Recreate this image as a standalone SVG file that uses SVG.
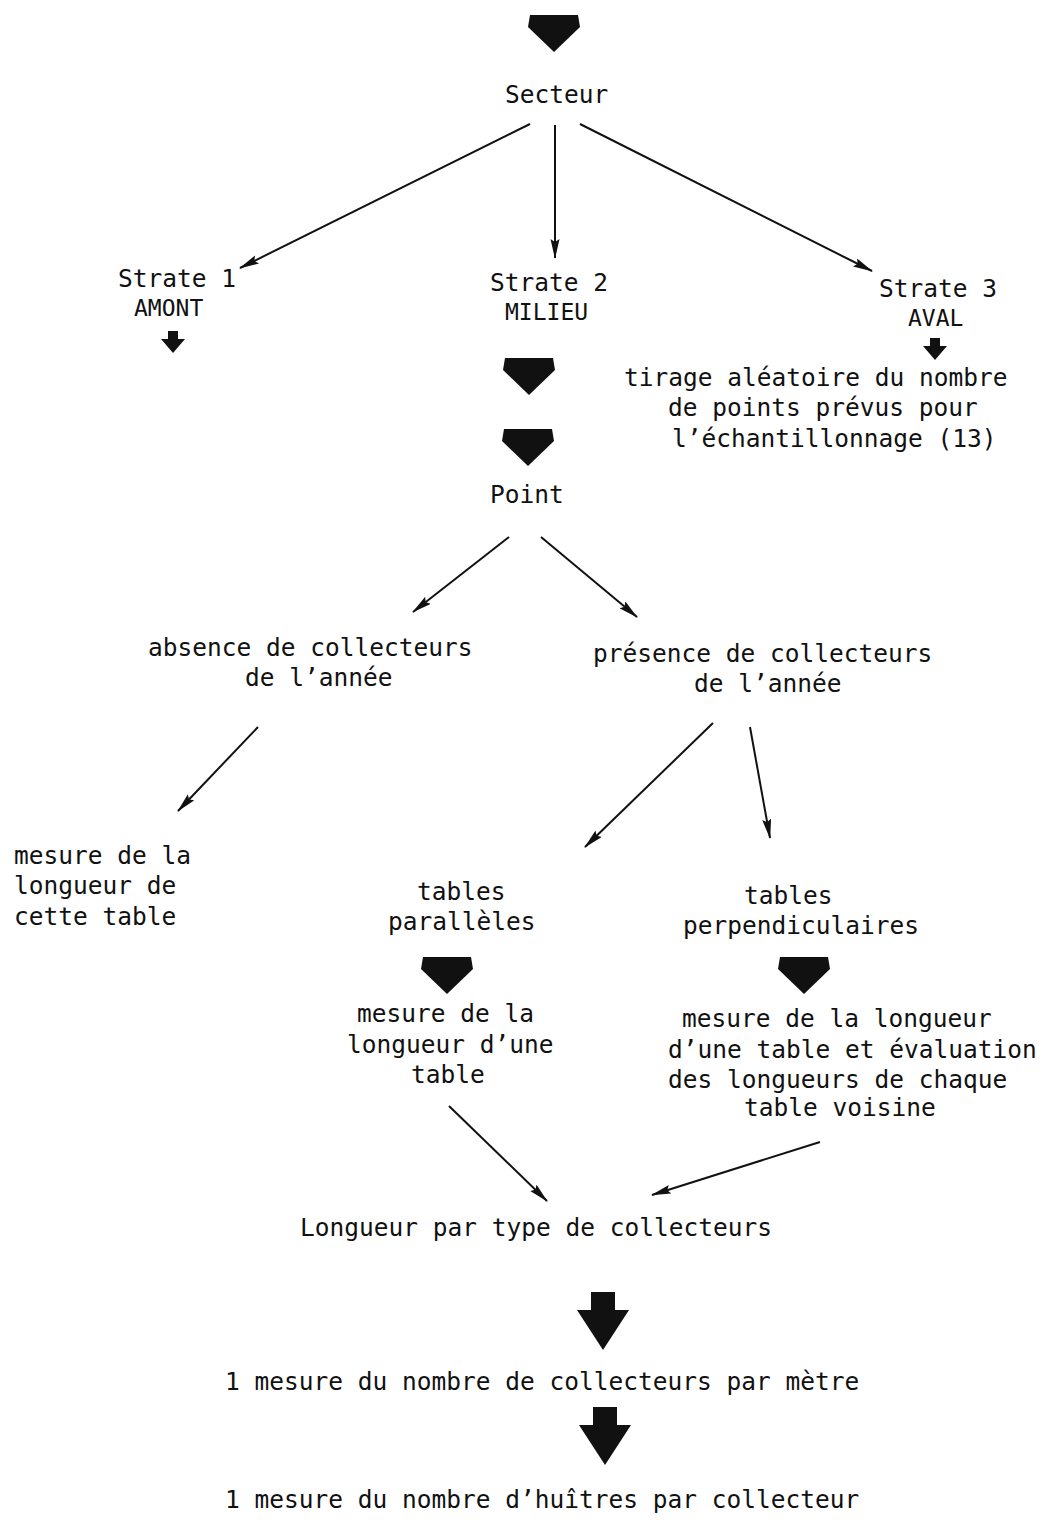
<svg xmlns="http://www.w3.org/2000/svg" width="1047" height="1523" viewBox="0 0 1047 1523">
<style>
text{font-family:"DejaVu Sans Mono","Liberation Mono",monospace;font-size:24.5px;fill:#111}
.caps{font-size:23px}
.ln{stroke:#111;stroke-width:2;fill:none;marker-end:url(#ah)}
.fat{fill:#111}
</style>
<defs>
<marker id="ah" markerUnits="userSpaceOnUse" markerWidth="20" markerHeight="10" refX="19" refY="4.5" orient="auto">
<path d="M0,0 L20,4.5 L0,9 L3,4.5 z" fill="#111"/>
</marker>
<path id="big" d="M-24,0 L24,0 L26,12 L0,37 L-26,12 Z"/>
<path id="stem" d="M-12,0 L12,0 L12,18 L26,18 L0,58 L-26,18 L-12,18 Z"/>
<path id="small" d="M-5,0 L5,0 L5,8 L12,8 L0,22 L-12,8 L-5,8 Z"/>
</defs>
<rect width="1047" height="1523" fill="#fff"/>
<g id="connectors">
<line class="ln" x1="530" y1="124" x2="240" y2="268"/>
<line class="ln" x1="555" y1="125" x2="555" y2="258"/>
<line class="ln" x1="580" y1="124" x2="872" y2="271"/>
<line class="ln" x1="509" y1="537" x2="413" y2="612"/>
<line class="ln" x1="541" y1="537" x2="637" y2="617"/>
<line class="ln" x1="258" y1="727" x2="178" y2="811"/>
<line class="ln" x1="713" y1="723" x2="585" y2="847"/>
<line class="ln" x1="750" y1="727" x2="770" y2="838"/>
<line class="ln" x1="449" y1="1106" x2="547" y2="1201"/>
<line class="ln" x1="820" y1="1142" x2="652" y2="1195"/>
<use href="#big" class="fat" transform="translate(554,15)"/>
<use href="#small" class="fat" transform="translate(173,331)"/>
<use href="#small" class="fat" transform="translate(935,338)"/>
<use href="#big" class="fat" transform="translate(529,358)"/>
<use href="#big" class="fat" transform="translate(528,429)"/>
<use href="#big" class="fat" transform="translate(447,957)"/>
<use href="#big" class="fat" transform="translate(804,957)"/>
<use href="#stem" class="fat" transform="translate(603,1292)"/>
<use href="#stem" class="fat" transform="translate(605,1407)"/>
</g>
<g id="secteur"><text x="505" y="103">Secteur</text></g>
<g id="strate1"><text x="118" y="287">Strate 1</text><text class="caps" x="134" y="316">AMONT</text></g>
<g id="strate2"><text x="490" y="291">Strate 2</text><text class="caps" x="505" y="320">MILIEU</text></g>
<g id="strate3"><text x="879" y="297">Strate 3</text><text class="caps" x="908" y="326">AVAL</text></g>
<g id="tirage"><text x="624" y="386">tirage aléatoire du nombre</text><text x="668" y="416">de points prévus pour</text><text x="672" y="447">l’échantillonnage (13)</text></g>
<g id="point"><text x="490" y="503">Point</text></g>
<g id="absence"><text x="148" y="656">absence de collecteurs</text><text x="245" y="686">de l’année</text></g>
<g id="presence"><text x="593" y="662">présence de collecteurs</text><text x="694" y="692">de l’année</text></g>
<g id="mesure-cette"><text x="14" y="864">mesure de la</text><text x="14" y="894">longueur de</text><text x="14" y="925">cette table</text></g>
<g id="paralleles"><text x="417" y="900">tables</text><text x="388" y="930">parallèles</text></g>
<g id="perpendiculaires"><text x="744" y="904">tables</text><text x="683" y="934">perpendiculaires</text></g>
<g id="mesure-une"><text x="357" y="1022">mesure de la</text><text x="347" y="1053">longueur d’une</text><text x="411" y="1083">table</text></g>
<g id="mesure-evaluation"><text x="682" y="1027">mesure de la longueur</text><text x="668" y="1058">d’une table et évaluation</text><text x="668" y="1088">des longueurs de chaque</text><text x="744" y="1116">table voisine</text></g>
<g id="longueur"><text x="300" y="1236">Longueur par type de collecteurs</text></g>
<g id="mesure-collecteurs"><text x="225" y="1390">1 mesure du nombre de collecteurs par mètre</text></g>
<g id="mesure-huitres"><text x="225" y="1508">1 mesure du nombre d’huîtres par collecteur</text></g>
</svg>
